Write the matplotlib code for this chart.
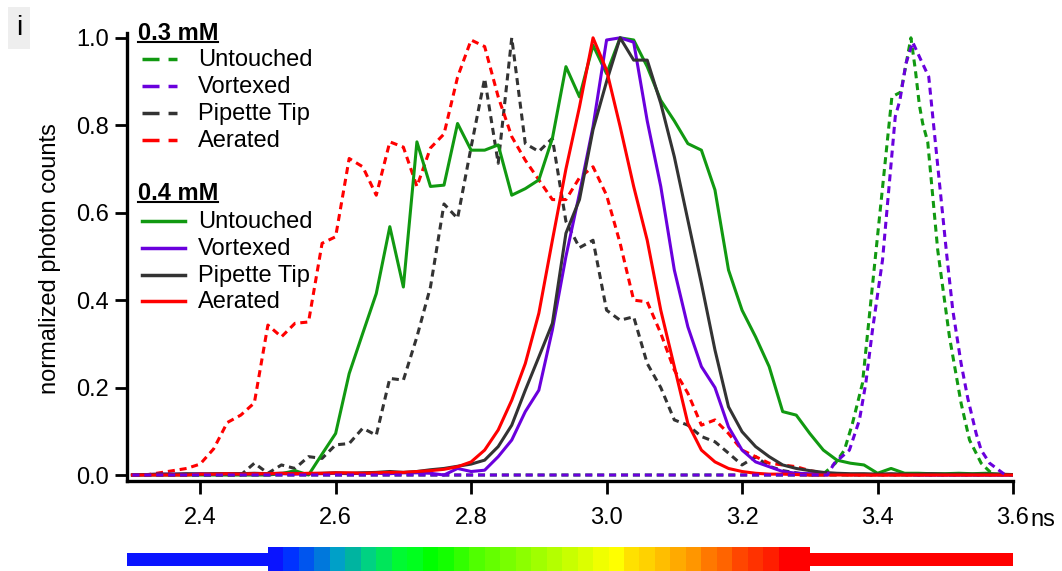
import numpy as np
import matplotlib
matplotlib.use('Agg')
from matplotlib import pyplot as plt
from matplotlib.lines import Line2D

plt.rcParams['font.family'] = ['Liberation Sans', 'DejaVu Sans']

# lifetime bins (ns)
t = [2.30, 2.32, 2.34, 2.36, 2.38, 2.40, 2.42, 2.44, 2.46, 2.48,
     2.50, 2.52, 2.54, 2.56, 2.58, 2.60, 2.62, 2.64, 2.66, 2.68,
     2.70, 2.72, 2.74, 2.76, 2.78, 2.80, 2.82, 2.84, 2.86, 2.88,
     2.90, 2.92, 2.94, 2.96, 2.98, 3.00, 3.02, 3.04, 3.06, 3.08,
     3.10, 3.12, 3.14, 3.16, 3.18, 3.20, 3.22, 3.24, 3.26, 3.28,
     3.30, 3.32, 3.34, 3.36, 3.38, 3.40, 3.42, 3.44, 3.46, 3.48,
     3.50, 3.52, 3.54, 3.56, 3.58, 3.60]

# 0.3 mM
aer03 = [0.0, 0.0, 0.005, 0.01, 0.015, 0.025, 0.06, 0.12, 0.137, 0.165,
         0.343, 0.316, 0.347, 0.35, 0.53, 0.545, 0.724, 0.705, 0.64, 0.762,
         0.75, 0.66, 0.748, 0.78, 0.91, 0.995, 0.98, 0.865, 0.774, 0.72,
         0.675, 0.63, 0.63, 0.68, 0.705, 0.64, 0.53, 0.40, 0.396, 0.324,
         0.24, 0.187, 0.114, 0.126, 0.095, 0.057, 0.042, 0.027, 0.023, 0.019,
         0.01, 0.005, 0.003, 0.0, 0.0, 0.0, 0.0, 0.0, 0.0, 0.0,
         0.0, 0.0, 0.0, 0.0, 0.0, 0.0]
pip03 = [0.0, 0.0, 0.0, 0.0, 0.0, 0.0, 0.0, 0.0, 0.0, 0.027,
         0.004, 0.023, 0.015, 0.042, 0.038, 0.069, 0.072, 0.107, 0.091, 0.221,
         0.217, 0.316, 0.43, 0.62, 0.587, 0.75, 0.907, 0.713, 1.0, 0.758,
         0.74, 0.77, 0.58, 0.52, 0.537, 0.377, 0.354, 0.362, 0.255, 0.20,
         0.126, 0.114, 0.088, 0.076, 0.05, 0.023, 0.042, 0.02, 0.01, 0.005,
         0.0, 0.0, 0.0, 0.0, 0.0, 0.0, 0.0, 0.0, 0.0, 0.0,
         0.0, 0.0, 0.0, 0.0, 0.0, 0.0]

# the two narrow 0.3 mM peaks are sampled finer
t_unt03 = [2.30, 3.3185, 3.3378, 3.3511, 3.363, 3.3778, 3.3956, 3.4212, 3.4345, 3.4493,
           3.4559, 3.4618, 3.4667, 3.4741, 3.4889, 3.5062, 3.5234, 3.5358, 3.5456, 3.553,
           3.5655, 3.5748]
unt03 = [0.0, 0.0, 0.027, 0.057, 0.118, 0.21, 0.48, 0.865, 0.876, 1.0,
         0.926, 0.846, 0.804, 0.762, 0.514, 0.316, 0.164, 0.08, 0.05, 0.027,
         0.008, 0.0]
t_vor03 = [2.30, 3.3259, 3.3363, 3.3585, 3.3733, 3.3827, 3.3926, 3.4074, 3.4262, 3.433,
           3.4419, 3.4519, 3.4641, 3.4756, 3.5022, 3.5111, 3.5234, 3.5333, 3.5456, 3.553,
           3.5655, 3.5852, 3.5926]
vor03 = [0.0, 0.0, 0.027, 0.057, 0.126, 0.21, 0.332, 0.492, 0.82, 0.857,
         0.941, 0.99, 0.949, 0.911, 0.503, 0.377, 0.255, 0.175, 0.095, 0.057,
         0.027, 0.004, 0.0]

# 0.4 mM
unt04 = [0.0, 0.0, 0.0, 0.0, 0.0, 0.0, 0.0, 0.0, 0.0, 0.0,
         0.0, 0.003, 0.01, 0.0, 0.048, 0.095, 0.232, 0.324, 0.415, 0.568,
         0.43, 0.762, 0.66, 0.663, 0.804, 0.743, 0.743, 0.755, 0.64, 0.655,
         0.675, 0.77, 0.934, 0.865, 0.983, 0.918, 1.0, 0.995, 0.934, 0.857,
         0.81, 0.758, 0.743, 0.652, 0.469, 0.377, 0.316, 0.248, 0.145, 0.137,
         0.095, 0.057, 0.034, 0.027, 0.023, 0.004, 0.015, 0.004, 0.004, 0.003,
         0.003, 0.004, 0.003, 0.004, 0.002, 0.0]
vor04 = [0.0, 0.001, 0.002, 0.002, 0.002, 0.003, 0.002, 0.003, 0.003, 0.002,
         0.003, 0.003, 0.002, 0.003, 0.003, 0.004, 0.003, 0.004, 0.004, 0.003,
         0.005, 0.005, 0.004, 0.0, 0.015, 0.008, 0.011, 0.042, 0.08, 0.145,
         0.194, 0.332, 0.50, 0.644, 0.797, 0.995, 1.0, 0.99, 0.81, 0.66,
         0.469, 0.339, 0.248, 0.20, 0.11, 0.057, 0.03, 0.019, 0.008, 0.004,
         0.003, 0.002, 0.002, 0.001, 0.001, 0.001, 0.001, 0.001, 0.0, 0.0,
         0.0, 0.0, 0.0, 0.0, 0.0, 0.0]
pip04 = [0.0, 0.001, 0.002, 0.002, 0.003, 0.002, 0.003, 0.003, 0.003, 0.004,
         0.003, 0.004, 0.004, 0.003, 0.004, 0.005, 0.004, 0.005, 0.006, 0.008,
         0.006, 0.008, 0.012, 0.015, 0.02, 0.025, 0.034, 0.065, 0.114, 0.194,
         0.27, 0.347, 0.553, 0.63, 0.79, 0.90, 1.0, 0.949, 0.949, 0.85,
         0.728, 0.583, 0.438, 0.286, 0.156, 0.099, 0.065, 0.042, 0.023, 0.015,
         0.01, 0.006, 0.004, 0.003, 0.003, 0.002, 0.003, 0.002, 0.002, 0.003,
         0.002, 0.002, 0.002, 0.002, 0.002, 0.001]
aer04 = [0.0, 0.0, 0.0, 0.0, 0.0, 0.002, 0.002, 0.003, 0.002, 0.003,
         0.003, 0.004, 0.003, 0.004, 0.004, 0.005, 0.005, 0.004, 0.005, 0.006,
         0.006, 0.008, 0.01, 0.013, 0.019, 0.03, 0.057, 0.103, 0.171, 0.255,
         0.37, 0.537, 0.70, 0.842, 1.0, 0.926, 0.797, 0.66, 0.537, 0.377,
         0.248, 0.118, 0.057, 0.03, 0.015, 0.008, 0.004, 0.002, 0.002, 0.001,
         0.0, 0.0, 0.0, 0.0, 0.0, 0.0, 0.0, 0.0, 0.0, 0.0,
         0.0, 0.0, 0.0, 0.0, 0.0, 0.0]

labels = ['Untouched', 'Vortexed', 'Pipette Tip', 'Aerated']
GREEN = '#119911'
PURPLE = '#6a00dd'
GRAY = '#333333'
RED = '#ff0000'
colors = [GREEN, PURPLE, GRAY, RED]

# stepped color strip under the axis (2.5 - 3.3 ns)
strip_lo, strip_hi = 2.5, 3.3
strip_cols = ['#0a14ff', '#0032ff', '#0055ee', '#0078dc', '#00a0c8', '#00b4a0', '#00d282',
              '#00e65a', '#00fa32', '#00ff1e', '#00ff00', '#14ff00', '#32ff00', '#50ff00',
              '#64ff00', '#78ff00', '#8cff00', '#a0ff00', '#b4ff00', '#c8ff00', '#dcff00',
              '#f0ff00', '#ffff00', '#ffe100', '#ffd200', '#ffbe00', '#ffaa00', '#ff9600',
              '#ff7800', '#ff6400', '#ff4600', '#ff3200', '#ff1e00', '#ff0000', '#ff0000']

W, H = 1062, 571
def P(x, y):
    # pixel -> figure fraction
    return x / W, 1 - y / H

fig = plt.figure(figsize=(W / 100, H / 100), dpi=100)
ax = fig.add_axes([127 / W, 1 - 481 / H, 886 / W, 448 / H])

DASH = (0, (2.3, 1.6))
lw = 2.2
ax.plot(t_unt03, unt03, color=GREEN, lw=lw, ls=DASH)
ax.plot(t, pip03, color=GRAY, lw=lw, ls=DASH)
ax.plot(t, aer03, color=RED, lw=lw, ls=DASH)
ax.plot(t, unt04, color=GREEN, lw=lw)
ax.plot(t, vor04, color=PURPLE, lw=lw)
ax.plot(t, pip04, color=GRAY, lw=lw)
ax.plot(t, aer04, color=RED, lw=lw)
ax.plot(t_vor03, vor03, color=PURPLE, lw=lw, ls=DASH)

ax.set_xlim(2.292, 3.6)
ax.set_ylim(-0.0137, 1.011)
for s in ['top', 'right']:
    ax.spines[s].set_visible(False)
for s in ['left', 'bottom']:
    ax.spines[s].set_linewidth(2.4)
ax.set_xticks([2.4, 2.6, 2.8, 3.0, 3.2, 3.4, 3.6])
ax.set_xticklabels(['2.4', '2.6', '2.8', '3.0', '3.2', '3.4', '3.6'])
ax.set_yticks([0.0, 0.2, 0.4, 0.6, 0.8, 1.0])
ax.set_yticklabels(['0.0', '0.2', '0.4', '0.6', '0.8', '1.0'])
ax.tick_params(axis='both', direction='out', length=9, width=2, labelsize=17)
ax.tick_params(axis='x', pad=10)
ax.tick_params(axis='y', pad=4)

fig.text(*P(1030, 526), 'ns', fontsize=17, ha='left', va='baseline')
fig.text(*P(50, 259), 'normalized photon counts', fontsize=17, rotation=90,
         ha='center', va='center')

# panel tag
fig.text(*P(19, 28), 'i', fontsize=20, ha='center', va='center',
         bbox=dict(facecolor='#eeeeee', edgecolor='none', boxstyle='square,pad=0.3'))

# hand-made legend
def heading(txt, base, uline):
    fig.text(*P(138, base), txt, fontsize=17, fontweight='bold', va='baseline', ha='left')
    fig.add_artist(Line2D([138 / W, 218 / W], [1 - uline / H] * 2, color='k', lw=1.5))

heading('0.3 mM', 40, 42)
heading('0.4 mM', 200, 202)
bases03 = [66, 93, 120, 147]
bases04 = [228, 255, 282, 308]
for lab, col, b in zip(labels, colors, bases03):
    y = 1 - (b - 7) / H
    fig.add_artist(Line2D([142 / W, 177 / W], [y, y], color=col, lw=2.5, ls=(0, (4.9, 2.6))))
    fig.text(*P(198, b), lab, fontsize=17, va='baseline', ha='left')
for lab, col, b in zip(labels, colors, bases04):
    y = 1 - (b - 7) / H
    fig.add_artist(Line2D([142 / W, 185 / W], [y, y], color=col, lw=2.5))
    fig.text(*P(198, b), lab, fontsize=17, va='baseline', ha='left')

# color strip
cax = fig.add_axes([127 / W, 0, 886 / W, 24 / H])
cax.set_xlim(ax.get_xlim())
cax.set_ylim(0, 1)
cax.axis('off')
edges = np.linspace(strip_lo, strip_hi, len(strip_cols) + 1)
cax.bar(edges[:-1], 1.0, width=edges[1] - edges[0], align='edge', color=strip_cols, linewidth=0)
cax.bar(2.292, 0.54, bottom=0.19, width=strip_lo - 2.292, align='edge', color='#0a14ff', linewidth=0)
cax.bar(strip_hi, 0.54, bottom=0.19, width=3.6 - strip_hi, align='edge', color=RED, linewidth=0)

fig.savefig('out.png', dpi=100)
